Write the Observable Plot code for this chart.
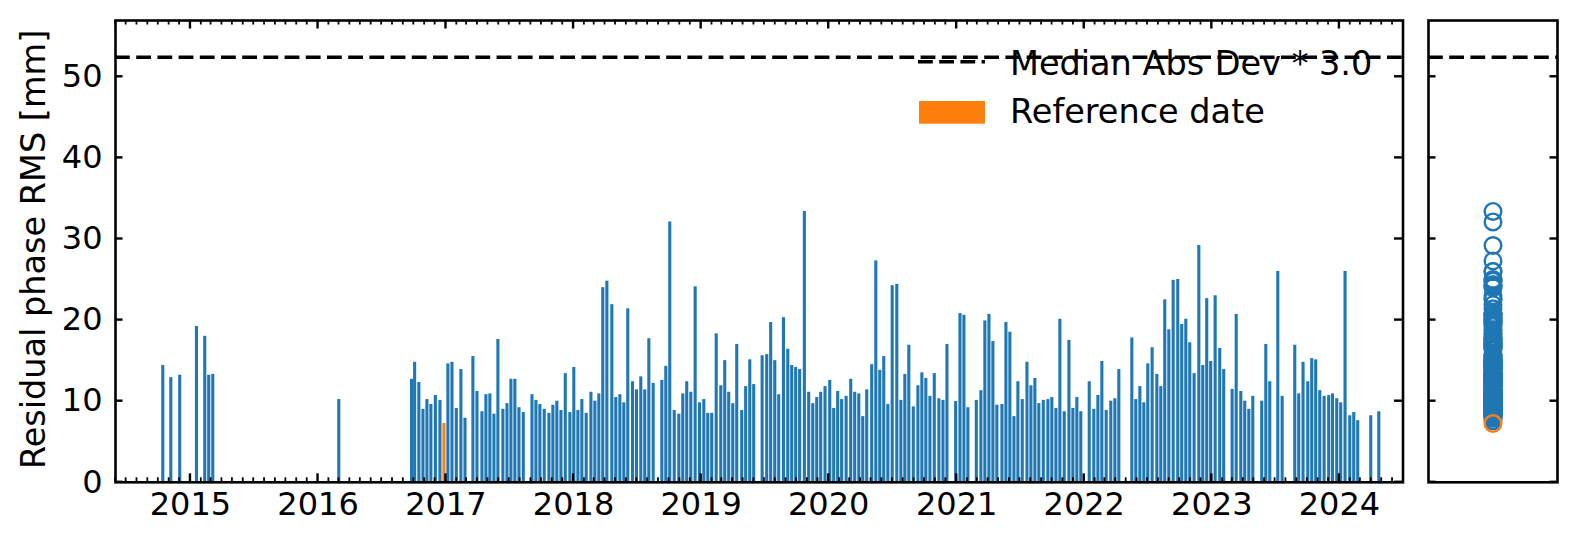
<!DOCTYPE html>
<html><head><meta charset="utf-8">
<script src="https://cdn.jsdelivr.net/npm/d3@7"></script>
<script src="https://cdn.jsdelivr.net/npm/@observablehq/plot@0.6"></script>
<style>
body{margin:0;background:#fff;}
#wrap{position:relative;width:1578px;height:545px;font-family:"DejaVu Sans",sans-serif;}
#main{position:absolute;left:0;top:0;}
#side{position:absolute;left:1412px;top:0;}
</style></head><body><div id="wrap"><div id="main"></div><div id="side"></div></div>
<script>
// acquisition dates (decimal years)
const dates = [
2014.783,2014.846,2014.916,2015.047,2015.112,2015.143,2015.175,2016.162,
2016.731,2016.755,2016.788,2016.820,2016.851,2016.882,2016.917,2016.953,2016.984,2017.015,
2017.047,2017.081,2017.117,2017.149,2017.211,2017.243,2017.282,2017.313,2017.344,2017.376,
2017.407,2017.446,2017.478,2017.509,2017.540,2017.572,2017.606,2017.674,2017.705,2017.736,
2017.770,2017.807,2017.838,2017.869,2017.901,2017.935,2017.971,2018.002,2018.034,2018.065,
2018.099,2018.136,2018.167,2018.198,2018.229,2018.261,2018.300,2018.331,2018.363,2018.394,
2018.425,2018.462,2018.493,2018.527,2018.558,2018.590,2018.624,2018.692,2018.723,2018.754,
2018.789,2018.825,2018.856,2018.887,2018.919,2018.953,2018.987,2019.021,2019.052,2019.083,
2019.118,2019.154,2019.185,2019.216,2019.248,2019.279,2019.318,2019.349,2019.381,2019.412,
2019.478,2019.514,2019.545,2019.577,2019.608,2019.645,2019.679,2019.710,2019.741,2019.772,
2019.809,2019.843,2019.875,2019.906,2019.937,2019.971,2020.008,2020.039,2020.070,2020.101,
2020.136,2020.172,2020.203,2020.235,2020.266,2020.297,2020.336,2020.368,2020.399,2020.430,
2020.462,2020.496,2020.532,2020.564,2020.595,2020.626,2020.661,2020.697,2020.728,2020.759,
2020.791,2020.825,2020.861,2020.893,2020.924,2020.992,2021.026,2021.057,2021.088,2021.154,
2021.190,2021.221,2021.253,2021.284,2021.315,2021.355,2021.386,2021.417,2021.449,2021.480,
2021.514,2021.551,2021.582,2021.613,2021.644,2021.679,2021.715,2021.746,2021.778,2021.809,
2021.843,2021.880,2021.911,2021.942,2021.973,2022.039,2022.075,2022.107,2022.138,2022.172,
2022.208,2022.240,2022.271,2022.373,2022.404,2022.436,2022.467,2022.498,2022.532,2022.569,
2022.600,2022.631,2022.663,2022.697,2022.733,2022.764,2022.796,2022.827,2022.861,2022.898,
2022.929,2022.960,2022.991,2023.026,2023.062,2023.093,2023.159,2023.191,2023.227,2023.258,
2023.290,2023.321,2023.391,2023.423,2023.454,2023.517,2023.551,2023.650,2023.681,2023.715,
2023.752,2023.783,2023.814,2023.846,2023.880,2023.916,2023.946,2023.979,2024.010,2024.044,
2024.081,2024.112,2024.143,2024.245,2024.308
];
// residual phase RMS [mm]
const rms = [
14.4,12.9,13.2,19.2,18.0,13.2,13.3,10.2,
12.7,14.8,12.3,9.0,10.2,9.6,10.7,10.1,7.25,14.6,
14.8,9.1,13.9,7.9,15.5,11.2,8.7,10.8,10.9,8.4,
17.6,9.0,9.7,12.7,12.7,9.2,8.6,10.8,10.1,9.6,
9.0,8.5,9.5,10.0,8.85,13.4,8.6,14.15,8.85,10.2,
8.5,11.1,10.0,10.9,24.0,24.8,21.9,10.45,10.8,9.8,
21.4,12.4,11.4,13.0,11.4,17.7,12.2,12.55,14.3,32.1,
8.85,8.4,10.9,12.4,11.1,24.1,9.8,10.2,8.5,8.5,
18.3,11.9,15.0,11.1,9.7,17.0,8.85,11.8,15.1,12.05,
15.6,15.75,19.7,15.0,10.8,20.3,16.4,14.4,14.15,13.9,
33.4,11.1,9.7,10.45,11.1,11.8,12.55,9.1,11.2,10.2,
10.6,12.7,11.1,10.9,8.1,11.4,14.5,27.3,13.8,15.5,
9.6,24.25,24.4,10.1,13.3,16.9,9.3,11.9,13.5,12.8,
10.6,13.4,10.3,10.1,17.0,9.96,20.8,20.6,9.2,10.1,
11.3,19.9,20.7,17.35,9.5,9.6,19.7,18.5,8.1,12.4,
10.2,14.8,11.9,12.8,9.7,10.1,10.2,10.45,9.1,20.1,
8.7,17.5,9.1,10.45,8.7,12.4,9.0,10.7,14.9,8.85,
10.0,10.3,13.9,17.8,10.2,11.8,9.8,14.6,16.6,13.3,
11.8,22.5,18.8,24.9,25.0,19.45,20.1,17.2,13.4,29.2,
14.4,22.65,14.9,23.0,16.5,13.9,11.45,20.7,11.2,10.0,
9.0,10.6,10.0,17.0,12.4,26.0,10.6,16.9,10.9,14.8,
12.4,15.25,15.1,11.3,10.6,10.7,10.9,10.3,9.8,26.0,
8.2,8.6,7.6,8.2,8.7
];
const referenceDate = 2016.984;
const madThreshold = 52.4;           // Median Abs Dev * 3.0
const yTicks = [0, 10, 20, 30, 40, 50];
const yearTicks = [2015, 2016, 2017, 2018, 2019, 2020, 2021, 2022, 2023, 2024];
const yLabel = "Residual phase RMS [mm]";
const legendLabels = ["Median Abs Dev * 3.0", "Reference date"];

const BLUE = "#1f77b4", ORANGE = "#ff7f0e";
function decYear(y){const Y=Math.floor(y);const a=Date.UTC(Y,0,1),b=Date.UTC(Y+1,0,1);return new Date(a+(y-Y)*(b-a));}
const data = dates.map((d,i)=>({date: decYear(d), value: rms[i], ref: d === referenceDate}));
const yMax = 56.94;
const FS = 32, FL = 33.5;
const dash = {stroke: "black", strokeWidth: 3.6, strokeDasharray: "14.8,6.4"};

const main = Plot.plot({
  width: 1412, height: 545,
  marginLeft: 115, marginRight: 9.5, marginTop: 20, marginBottom: 63.2,
  style: {fontFamily: "DejaVu Sans", fontSize: FS + "px", background: "white", color: "black", overflow: "visible"},
  x: {type: "utc", domain: [decYear(2014.4125), decYear(2024.497)]},
  y: {domain: [0, yMax]},
  marks: [
    Plot.ruleX(data, {x: "date", y1: 0, y2: "value", stroke: d => d.ref ? ORANGE : BLUE, strokeWidth: 3.1}),
    Plot.ruleY([madThreshold], dash),
    Plot.axisX(yearTicks.map(decYear), {tickSize: 0, tickPadding: 10, tickFormat: d3.utcFormat("%Y"), fontSize: FS, label: null}),
    Plot.axisY(yTicks, {tickSize: 0, tickPadding: 13, fontSize: FS, label: null}),
    Plot.text([yLabel], {frameAnchor: "left", textAnchor: "middle", lineAnchor: "middle", dx: -81, dy: -2, rotate: -90, fontSize: FL}),
    Plot.frame({stroke: "black", strokeWidth: 2.6})
  ]
});
document.getElementById("main").append(main);

// inward ticks on all sides, using the plot's scales
{
  const sx = main.scale("x"), sy = main.scale("y");
  const L = 115, R = 1402.5, T = 20, B = 481.8;
  const g = d3.select(main).append("g").attr("stroke", "black");
  for (const v of yTicks) {
    const y = sy.apply(v);
    g.append("line").attr("x1", L).attr("x2", L + 7.5).attr("y1", y).attr("y2", y).attr("stroke-width", 2.4);
    g.append("line").attr("x1", R).attr("x2", R - 8.5).attr("y1", y).attr("y2", y).attr("stroke-width", 2.4);
  }
  const months = d3.utcMonth.range(decYear(2014.4125), decYear(2024.497));
  for (const m of months) {
    const major = m.getUTCMonth() === 0;
    const x = sx.apply(m);
    const len = major ? 8.5 : 4.5;
    const w = major ? 2.4 : 1.8;
    g.append("line").attr("x1", x).attr("x2", x).attr("y1", B).attr("y2", B - len).attr("stroke-width", w);
    g.append("line").attr("x1", x).attr("x2", x).attr("y1", T).attr("y2", T + len).attr("stroke-width", w);
  }
  // legend (inside plot, upper right)
  const lg = d3.select(main).append("g").attr("text-anchor", "start");
  lg.append("line").attr("x1", 918).attr("x2", 985).attr("y1", 61.7).attr("y2", 61.7)
    .attr("stroke", "black").attr("stroke-width", 3.6).attr("stroke-dasharray", "14.8,6.4");
  lg.append("rect").attr("x", 919).attr("y", 101).attr("width", 66).attr("height", 22.7).attr("fill", ORANGE);
  lg.append("text").attr("x", 1010).attr("y", 75).attr("font-size", FL).attr("text-anchor", "start").attr("fill", "black").text(legendLabels[0]);
  lg.append("text").attr("x", 1010).attr("y", 123.3).attr("font-size", FL).attr("text-anchor", "start").attr("fill", "black").text(legendLabels[1]);
}

const side = Plot.plot({
  width: 166, height: 545,
  marginLeft: 16, marginRight: 21, marginTop: 20, marginBottom: 63.2,
  style: {fontFamily: "DejaVu Sans", background: "transparent", overflow: "visible"},
  y: {domain: [0, yMax], axis: null},
  marks: [
    Plot.ruleY([madThreshold], dash),
    Plot.dot(data.filter(d => !d.ref), {y: "value", frameAnchor: "middle", r: 8.3, stroke: BLUE, strokeWidth: 2.4, fill: "none"}),
    Plot.dot(data.filter(d => d.ref), {y: "value", frameAnchor: "middle", r: 8.3, stroke: ORANGE, strokeWidth: 2.4, fill: "none"}),
    Plot.frame({stroke: "black", strokeWidth: 2.6})
  ]
});
document.getElementById("side").append(side);
{
  const sy = side.scale("y");
  const g = d3.select(side).append("g").attr("stroke", "black").attr("stroke-width", 2.4);
  for (const v of yTicks) {
    const y = sy.apply(v);
    g.append("line").attr("x1", 16).attr("x2", 23.5).attr("y1", y).attr("y2", y);
    g.append("line").attr("x1", 145).attr("x2", 137.5).attr("y1", y).attr("y2", y);
  }
}
</script></body></html>
